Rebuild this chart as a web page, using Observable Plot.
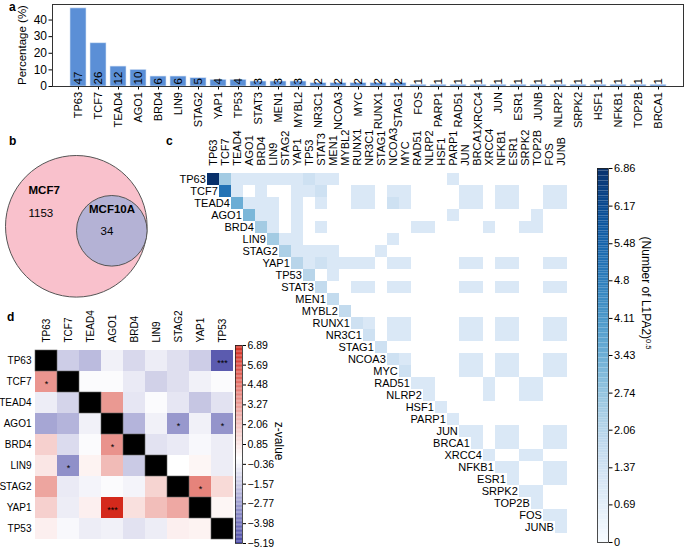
<!DOCTYPE html>
<html><head><meta charset="utf-8">
<script src="https://cdn.jsdelivr.net/npm/d3@7"></script>
<script src="https://cdn.jsdelivr.net/npm/@observablehq/plot@0.6"></script>
<style>
body{margin:0;background:white;}
#fig{position:relative;width:685px;height:549px;overflow:hidden;background:white;font-family:"Liberation Sans",Arial,sans-serif;}
#fig svg{position:absolute;overflow:visible;background:transparent;}
.lbl{position:absolute;font-weight:bold;font-size:12px;line-height:12px;color:#000;}
.ylab{position:absolute;font-size:11.5px;line-height:12px;color:#000;white-space:nowrap;transform:translate(-50%,-50%) rotate(-90deg);}
</style></head><body><div id="fig"></div>
<script>
// ---------- DATA ----------
// Panel a
const genesA = ["TP63","TCF7","TEAD4","AGO1","BRD4","LIN9","STAG2","YAP1","TP53","STAT3","MEN1","MYBL2","NR3C1","NCOA3","MYC","RUNX1","STAG1","FOS","PARP1","RAD51","XRCC4","JUN","ESR1","JUNB","NLRP2","SRPK2","HSF1","NFKB1","TOP2B","BRCA1"];
const pctA = [47,26,12,10,6,6,5,4,4,3,3,3,2,2,2,2,2,1,1,1,1,1,1,1,1,1,1,1,1,1];
const yTicksA = [0,10,20,30,40];
const yLabelA = "Percentage (%)";
// Panel b
const vennSets = ["MCF7","MCF10A"];
const vennCounts = [1153,34];
// Panel c
const genesC = ["TP63","TCF7","TEAD4","AGO1","BRD4","LIN9","STAG2","YAP1","TP53","STAT3","MEN1","MYBL2","RUNX1","NR3C1","STAG1","NCOA3","MYC","RAD51","NLRP2","HSF1","PARP1","JUN","BRCA1","XRCC4","NFKB1","ESR1","SRPK2","TOP2B","FOS","JUNB"];
const pairsC = [
["TP63","TCF7",6],["TP63","TEAD4",1],["TP63","AGO1",1],["TP63","BRD4",1],["TP63","LIN9",1],["TP63","STAG2",1],["TP63","YAP1",1],["TP63","TP53",2],["TP63","STAT3",1],["TP63","MEN1",1],["TP63","PARP1",1],
["TCF7","TEAD4",1],["TCF7","BRD4",1],["TCF7","YAP1",1],["TCF7","TP53",1],["TCF7","STAT3",2],["TCF7","RUNX1",1],["TCF7","NR3C1",1],["TCF7","NCOA3",1],["TCF7","MYC",1],["TCF7","JUN",1],["TCF7","BRCA1",1],["TCF7","NFKB1",1],["TCF7","ESR1",1],["TCF7","FOS",1],["TCF7","JUNB",1],
["TEAD4","AGO1",1],["TEAD4","BRD4",1],["TEAD4","LIN9",1],["TEAD4","YAP1",1],["TEAD4","STAT3",1],["TEAD4","RUNX1",1],["TEAD4","NR3C1",1],["TEAD4","NCOA3",2],["TEAD4","MYC",1],["TEAD4","JUN",1],["TEAD4","BRCA1",1],["TEAD4","NFKB1",1],["TEAD4","ESR1",1],["TEAD4","FOS",1],["TEAD4","JUNB",1],
["AGO1","BRD4",1],["AGO1","LIN9",1],["AGO1","YAP1",1],["AGO1","PARP1",1],["AGO1","TOP2B",1],
["BRD4","LIN9",1],["BRD4","YAP1",1],["BRD4","STAT3",1],["BRD4","RAD51",1],["BRD4","NLRP2",1],["BRD4","XRCC4",1],["BRD4","SRPK2",1],["BRD4","TOP2B",1],
["LIN9","STAG2",1],["LIN9","YAP1",1],["LIN9","NCOA3",1],
["STAG2","YAP1",1],["STAG2","TP53",1],["STAG2","STAT3",1],["STAG2","MEN1",1],["STAG2","STAG1",1],
["YAP1","TP53",1],["YAP1","STAT3",2],["YAP1","MEN1",1],["YAP1","MYBL2",1],["YAP1","RUNX1",1],["YAP1","NR3C1",1],["YAP1","NCOA3",1],["YAP1","MYC",1],["YAP1","JUN",1],["YAP1","BRCA1",1],["YAP1","NFKB1",1],["YAP1","ESR1",1],["YAP1","FOS",1],["YAP1","JUNB",1],
["TP53","MEN1",1],
["STAT3","RUNX1",1],["STAT3","NR3C1",1],["STAT3","NCOA3",1],["STAT3","MYC",1],["STAT3","JUN",1],["STAT3","BRCA1",1],["STAT3","NFKB1",1],["STAT3","ESR1",1],["STAT3","FOS",1],["STAT3","JUNB",1],
["RUNX1","NR3C1",1],["RUNX1","NCOA3",1],["RUNX1","MYC",1],["RUNX1","JUN",1],["RUNX1","BRCA1",1],["RUNX1","NFKB1",1],["RUNX1","ESR1",1],["RUNX1","FOS",1],["RUNX1","JUNB",1],
["NR3C1","NCOA3",1],["NR3C1","MYC",1],["NR3C1","JUN",1],["NR3C1","BRCA1",1],["NR3C1","NFKB1",1],["NR3C1","ESR1",1],["NR3C1","FOS",1],["NR3C1","JUNB",1],
["NCOA3","MYC",1],["NCOA3","JUN",1],["NCOA3","BRCA1",1],["NCOA3","NFKB1",1],["NCOA3","ESR1",1],["NCOA3","FOS",1],["NCOA3","JUNB",1],
["MYC","JUN",1],["MYC","BRCA1",1],["MYC","NFKB1",1],["MYC","ESR1",1],["MYC","FOS",1],["MYC","JUNB",1],
["RAD51","NLRP2",1],["RAD51","XRCC4",1],["RAD51","SRPK2",1],["RAD51","TOP2B",1],
["NLRP2","XRCC4",1],["NLRP2","SRPK2",1],["NLRP2","TOP2B",1],
["JUN","BRCA1",1],["JUN","NFKB1",1],["JUN","ESR1",1],["JUN","FOS",1],["JUN","JUNB",1],
["BRCA1","NFKB1",1],["BRCA1","ESR1",1],["BRCA1","FOS",1],["BRCA1","JUNB",1],
["XRCC4","SRPK2",1],["XRCC4","TOP2B",1],
["NFKB1","ESR1",1],["NFKB1","FOS",1],["NFKB1","JUNB",1],
["ESR1","FOS",1],["ESR1","JUNB",1],
["SRPK2","TOP2B",1],
["FOS","JUNB",1]
];
const cbTicksC = [0,0.69,1.37,2.06,2.74,3.43,4.11,4.8,5.48,6.17,6.86];
// Panel d
const genesD = ["TP63","TCF7","TEAD4","AGO1","BRD4","LIN9","STAG2","YAP1","TP53"];
const zD = [
[null,-1.4,-1.9,-0.4,-1.1,-0.5,-0.9,-1.4,-4.6],
[3.4,null,-0.1,-0.1,-0.6,-1.3,-0.9,-0.4,-0.1],
[-0.5,-1.2,null,3.3,-0.7,-0.1,-0.7,-1.6,-0.8],
[-2.5,-2.1,-0.4,null,-2.1,-0.4,-2.9,-0.4,-3.0],
[1.5,-1.0,-0.1,3.5,null,-0.8,-0.6,-0.2,-0.5],
[0.8,-3.1,0.4,2.2,-1.5,null,0.0,0.3,-0.5],
[2.9,-0.6,-0.3,-0.1,-0.3,1.4,null,4.0,1.2],
[1.5,-0.5,0.5,6.89,1.0,2.1,2.8,null,0.3],
[0.5,-0.2,-0.5,-0.4,-0.8,-0.5,0.5,0.4,null]
];
const starsD = [["TP63","TP53","***"],["TCF7","TP63","*"],["AGO1","STAG2","*"],["AGO1","TP53","*"],["BRD4","AGO1","*"],["LIN9","TCF7","*"],["STAG2","YAP1","*"],["YAP1","AGO1","***"]];
const cbTicksD = [-5.19,-3.98,-2.77,-1.57,-0.36,0.85,2.06,3.27,4.48,5.69,6.89];
const cbLabelsD = ["−5.19","−3.98","−2.77","−1.57","−0.36","0.85","2.06","3.27","4.48","5.69","6.89"];

// ---------- DRAW ----------
const FONT = '"Liberation Sans", Arial, sans-serif';
const fig = document.getElementById("fig");
function place(svg, left, top) { svg.style.left = left + "px"; svg.style.top = top + "px"; fig.append(svg); }
function letter(t, left, top) { const d = document.createElement("div"); d.className = "lbl"; d.textContent = t; d.style.left = left + "px"; d.style.top = top + "px"; fig.append(d); }

// Panel a
const dataA = genesA.map((g, i) => ({g, v: pctA[i]}));
place(Plot.plot({
  width: 685, height: 124, marginLeft: 52, marginRight: 2, marginTop: 4, marginBottom: 38,
  style: {fontFamily: FONT, fontSize: "11px", color: "#000", background: "transparent"},
  x: {domain: genesA, paddingInner: 0.2, paddingOuter: 0.3, label: null},
  y: {domain: [0, 49.35], label: null},
  marks: [
    Plot.barY(dataA, {x: "g", y: "v", fill: "#5b8fd6", stroke: "#d6e3f5", strokeWidth: 0.6}),
    Plot.text(dataA, {x: "g", y: 0, text: d => String(d.v), rotate: -90, textAnchor: "start", dy: -2, fill: "#000", fontSize: 11.5}),
    Plot.axisX({tickRotate: -90, tickSize: 3.5, tickPadding: 2, label: null, fontSize: 11}),
    Plot.axisY({ticks: yTicksA, tickSize: 3.5, tickPadding: 2, label: null, fontSize: 12}),
    Plot.frame({stroke: "#333"})
  ]
}), 0, 0);
const yl = document.createElement("div");
yl.className = "ylab"; yl.textContent = yLabelA; yl.style.left = "22px"; yl.style.top = "45px";
fig.append(yl);

// Panel b (Venn)
place(Plot.plot({
  width: 160, height: 170, margin: 0,
  style: {fontFamily: FONT, fontSize: "11px", color: "#000", background: "transparent"},
  x: {type: "identity", axis: null}, y: {type: "identity", axis: null},
  marks: [
    Plot.dot([vennSets[0]], {x: 75.8, y: 90.8, r: 70.8, fill: "#f9c1cc", stroke: "#555", strokeWidth: 1}),
    Plot.dot([vennSets[1]], {x: 111.3, y: 95.3, r: 35.3, fill: "#b4b2d5", stroke: "#555", strokeWidth: 1}),
    Plot.text([vennSets[0]], {x: 28, y: 55, textAnchor: "start", fontWeight: "bold", fontSize: 11.5}),
    Plot.text([String(vennCounts[0])], {x: 28, y: 78, textAnchor: "start", fontSize: 11.5}),
    Plot.text([vennSets[1]], {x: 111.5, y: 73.5, fontWeight: "bold", fontSize: 11.5}),
    Plot.text([String(vennCounts[1])], {x: 106.5, y: 96, fontSize: 11.5})
  ]
}), 0, 135);

// Panel c heatmap
const countMap = new Map(genesA.map((g, i) => [g, pctA[i]]));
const cellsC = genesC.map(g => ({r: g, c: g, v: Math.sqrt(countMap.get(g))}))
  .concat(pairsC.map(([r, c, n]) => ({r, c, v: Math.sqrt(n)})));
const colorC = {type: "linear", scheme: "blues", domain: [0, 6.86]};
const cellW = 372.3 / genesC.length;
place(Plot.plot({
  width: 440, height: 449, marginLeft: 50.7, marginRight: 17, marginTop: 67.3, marginBottom: 9.4,
  style: {fontFamily: FONT, fontSize: "11px", color: "#000", background: "transparent"},
  x: {type: "band", domain: genesC, padding: 0, label: null},
  y: {type: "band", domain: genesC, padding: 0, axis: null},
  color: colorC,
  marks: [
    Plot.cell(cellsC, {x: "c", y: "r", fill: "v"}),
    Plot.text(genesC, {x: d => d, y: d => d, text: d => d, textAnchor: "end", dx: -(cellW / 2 + 1.5), fontSize: 11}),
    Plot.axisX({anchor: "top", tickRotate: -90, tickSize: 0, tickPadding: 2, label: null, fontSize: 11})
  ]
}), 150, 100);

// Panel c colorbar
const stepsC = d3.range(150).map(i => ({y1: i * 6.86 / 150, y2: (i + 1) * 6.86 / 150}));
const cbC = Plot.plot({
  width: 95, height: 389, marginLeft: 7, marginRight: 77, marginTop: 8, marginBottom: 7,
  style: {fontFamily: FONT, fontSize: "11px", color: "#000", background: "transparent"},
  x: {axis: null},
  y: {domain: [0, 6.86], axis: null},
  color: colorC,
  marks: [
    Plot.rect(stepsC, {y1: "y1", y2: "y2", fill: d => (d.y1 + d.y2) / 2}),
    Plot.frame({stroke: "#222", strokeWidth: 0.8}),
    Plot.axisY({anchor: "right", ticks: cbTicksC, tickFormat: d => String(d), tickSize: 3.5, tickPadding: 2, label: null, fontSize: 11}),
    Plot.text(["(Number of L1PA2)"], {frameAnchor: "right", rotate: 90, dx: 37, dy: -6, fontSize: 12})
  ]
});
place(cbC, 590, 160);
d3.select(cbC).selectAll("text").filter(function() { return this.textContent === "(Number of L1PA2)"; })
  .append("tspan").attr("baseline-shift", "super").attr("font-size", "7.5px").text("0.5");

// Panel d heatmap
const cellsD = [];
genesD.forEach((r, i) => genesD.forEach((c, j) => { if (zD[i][j] !== null) cellsD.push({r, c, z: zD[i][j]}); }));
const diagD = genesD.map(g => ({r: g, c: g}));
const starData = starsD.map(([r, c, s]) => ({r, c, s}));
const colorD = {type: "linear", domain: [-5.19, 0, 6.89], range: ["#4646a5", "#ffffff", "#d4291c"], interpolate: "rgb"};
place(Plot.plot({
  width: 240, height: 249, marginLeft: 34, marginRight: 7, marginTop: 46, marginBottom: 6,
  style: {fontFamily: FONT, fontSize: "10px", color: "#000", background: "transparent"},
  x: {type: "band", domain: genesD, padding: 0, label: null},
  y: {type: "band", domain: genesD, padding: 0, label: null},
  color: colorD,
  marks: [
    Plot.cell(cellsD, {x: "c", y: "r", fill: "z"}),
    Plot.cell(diagD, {x: "c", y: "r", fill: "black", stroke: "#666", strokeWidth: 0.6}),
    Plot.text(starData, {x: "c", y: "r", text: "s", fontSize: 9, dy: 2.5, fill: "#000"}),
    Plot.axisX({anchor: "top", tickRotate: -90, tickSize: 0, tickPadding: 4, label: null, fontSize: 10}),
    Plot.axisY({anchor: "left", tickSize: 0, tickPadding: 3, label: null, fontSize: 10})
  ]
}), 0, 300);

// Panel d colorbar
const stepsD = d3.range(150).map(i => ({y1: -5.19 + i * 12.08 / 150, y2: -5.19 + (i + 1) * 12.08 / 150}));
const labelMapD = new Map(cbTicksD.map((t, i) => [t, cbLabelsD[i]]));
place(Plot.plot({
  width: 85, height: 249, marginLeft: 5, marginRight: 73, marginTop: 45, marginBottom: 6,
  style: {fontFamily: FONT, fontSize: "10px", color: "#000", background: "transparent"},
  x: {axis: null},
  y: {domain: [-5.19, 6.89], axis: null},
  color: colorD,
  marks: [
    Plot.rect(stepsD, {y1: "y1", y2: "y2", fill: d => (d.y1 + d.y2) / 2}),
    Plot.frame({stroke: "#222", strokeWidth: 0.8}),
    Plot.axisY({anchor: "right", ticks: cbTicksD, tickFormat: d => labelMapD.get(d), tickSize: 3, tickPadding: 2, label: null, fontSize: 10.5}),
    Plot.text(["z-value"], {frameAnchor: "right", rotate: 90, dx: 36, dy: 16, fontSize: 12})
  ]
}), 230, 300);

letter("a", 9, 1);
letter("b", 9, 135);
letter("c", 166, 135);
letter("d", 7, 311);
</script></body></html>
